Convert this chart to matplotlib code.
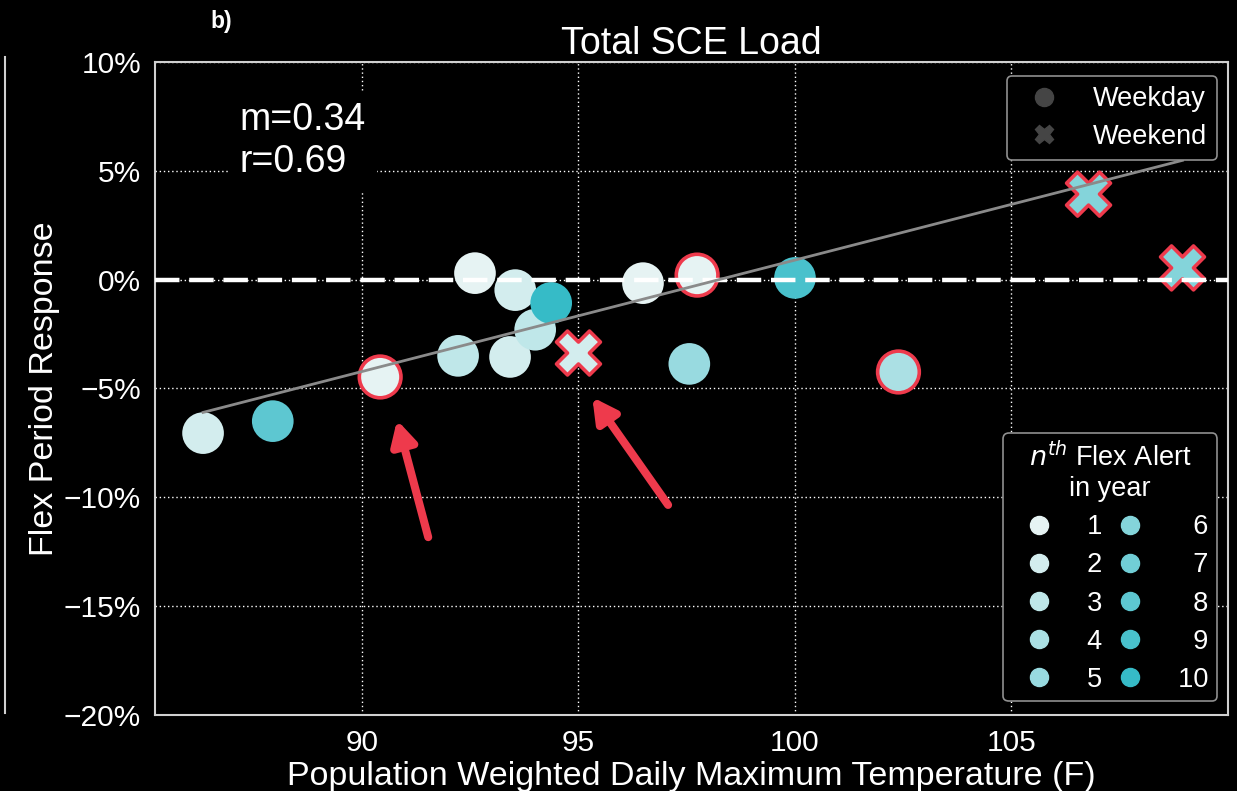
import numpy as np
import matplotlib
matplotlib.use("Agg")
import matplotlib.pyplot as plt
from matplotlib.colors import LinearSegmentedColormap
from matplotlib.lines import Line2D
from matplotlib.ticker import FuncFormatter

plt.rcParams['font.family'] = ['Liberation Sans', 'DejaVu Sans']

# data #
temp_f = [86.33, 87.94, 90.42, 92.22, 92.61, 93.42, 93.54, 94.00, 94.37, 95.00,
          96.49, 97.74, 97.56, 100.00, 102.39, 106.78, 108.95]
response = [-7.05, -6.50, -4.47, -3.50, 0.30, -3.55, -0.48, -2.30, -1.07, -3.37,
            -0.16, 0.21, -3.87, 0.08, -4.24, 3.93, 0.54]
nth_alert = [2, 8, 1, 3, 1, 2, 2, 3, 10, 2, 1, 1, 5, 9, 4, 6, 6]
weekend = [0, 0, 0, 0, 0, 0, 0, 0, 0, 1, 0, 0, 0, 0, 0, 1, 1]
highlight = [0, 0, 1, 0, 0, 0, 0, 0, 0, 1, 0, 1, 0, 0, 1, 1, 1]

fit_slope = 0.512
fit_intercept = -50.30
stats_text = "m=0.34\nr=0.69"

arrow_tips = [(90.81, -6.45), (95.32, -5.40)]
arrow_tails = [(91.53, -11.83), (97.07, -10.35)]

x_ticks = [90, 95, 100, 105]
y_ticks = [-20, -15, -10, -5, 0, 5, 10]


def pct(v, p):
    s = "%d%%" % abs(v)
    return "\u2212" + s if v < 0 else s


def main():
    temp = np.array(temp_f)
    resp = np.array(response)
    nth = np.array(nth_alert)
    wk = np.array(weekend, dtype=bool)
    hl = np.array(highlight, dtype=bool)

    cmap = LinearSegmentedColormap.from_list("flex", ["#e6f3f3", "#36bbc7"])
    colors = [cmap((n - 1) / 9.) for n in range(1, 11)]
    red = "#ee3a4c"

    fig = plt.figure(figsize=(12.37, 7.91), dpi=100, facecolor="black")
    ax = fig.add_axes([0.1253, 0.0961, 0.8674, 0.8255], facecolor="black")

    # scatter points #
    for is_wk, mk, size in [(False, "o", 900), (True, "X", 1000)]:
        for is_hl in [False, True]:
            sel = (wk == is_wk) & (hl == is_hl)
            if not sel.any():
                continue
            ax.scatter(temp[sel], resp[sel], s=size, marker=mk,
                       c=[colors[n - 1] for n in nth[sel]],
                       edgecolors=red if is_hl else "none",
                       linewidths=2.6 if is_hl else 0, zorder=3)

    # fit line #
    xs = np.array([temp.min(), temp.max()])
    ax.plot(xs, fit_slope * xs + fit_intercept, color="#8a8a8a", lw=2, zorder=5)

    # zero line #
    ax.axhline(0, color="white", lw=3.2, dashes=(5.5, 2.2), zorder=4)

    # arrows #
    for tip, tail in zip(arrow_tips, arrow_tails):
        ax.annotate("", xy=tip, xytext=tail,
                    arrowprops=dict(arrowstyle="-|>,head_length=1.4,head_width=0.75",
                                    color=red, lw=5.8, shrinkA=0, shrinkB=0),
                    zorder=6)

    ax.set_xlim(85.22, 110.0)
    ax.set_ylim(-20, 10)
    ax.set_xticks(x_ticks)
    ax.set_yticks(y_ticks)
    ax.yaxis.set_major_formatter(FuncFormatter(pct))
    ax.tick_params(colors="white", labelsize=21.5, length=0, pad=10)
    ax.grid(True, color="white", ls=(0, (1, 2)), lw=1, zorder=0)
    ax.set_axisbelow(True)
    for sp in ax.spines.values():
        sp.set_color("#d0d0d0")
        sp.set_linewidth(1.5)

    ax.set_title("Total SCE Load", color="white", fontsize=27, pad=5)
    ax.set_xlabel("Population Weighted Daily Maximum Temperature (F)", color="white",
                  fontsize=24.5, labelpad=3)
    ax.set_ylabel("Flex Period Response", color="white", fontsize=24.5, labelpad=3)

    ax.text(0.079, 0.939, stats_text, transform=ax.transAxes, color="white",
            fontsize=27, va="top", ha="left", linespacing=1.22,
            bbox=dict(facecolor="black", edgecolor="none", pad=8), zorder=7)

    fig.text(0.179, 0.973, "b)", color="white", fontsize=16.5, fontweight="bold",
             ha="center", va="center")

    # previous panel edge #
    fig.add_artist(Line2D([5 / 1237., 5 / 1237.], [0.0985, 0.928],
                          color="#d0d0d0", lw=1.5))

    # legends #
    day_handles = [Line2D([], [], marker="o", ls="none", color="#454545", markersize=13),
                   Line2D([], [], marker="X", ls="none", color="#454545", markersize=13)]
    leg1 = ax.legend(day_handles, ["Weekday", "Weekend"], loc="upper right",
                     bbox_to_anchor=(0.9897, 0.9786), borderaxespad=0,
                     fontsize=19.5, labelcolor="white",
                     facecolor="black", edgecolor="#909090", framealpha=1,
                     handletextpad=0.78, borderpad=0.38, labelspacing=0.42)
    leg1.get_frame().set_linewidth(1.2)
    ax.add_artist(leg1)

    fs = "\u2007"
    nth_handles = [Line2D([], [], marker="o", ls="none", color=colors[n - 1], markersize=13)
                   for n in range(1, 11)]
    nth_labels = [(fs * (2 - len(str(n))) + str(n)) if n <= 5 else
                  (fs * (3 - len(str(n))) + str(n)) for n in range(1, 11)]
    leg2 = ax.legend(nth_handles, nth_labels, ncol=2, loc="lower right",
                     bbox_to_anchor=(0.9897, 0.0214), borderaxespad=0,
                     fontsize=19.5, labelcolor="white",
                     title="$n^{th}$ Flex Alert\nin year", title_fontsize=19.5,
                     facecolor="black", edgecolor="#909090", framealpha=1,
                     handletextpad=0.22, columnspacing=0.05, borderpad=0.3,
                     labelspacing=0.45)
    leg2.get_title().set_color("white")
    leg2.get_title().set_multialignment("center")
    leg2.get_frame().set_linewidth(1.2)

    fig.savefig("out.png", dpi=100, facecolor="black")


if __name__ == "__main__":
    main()
